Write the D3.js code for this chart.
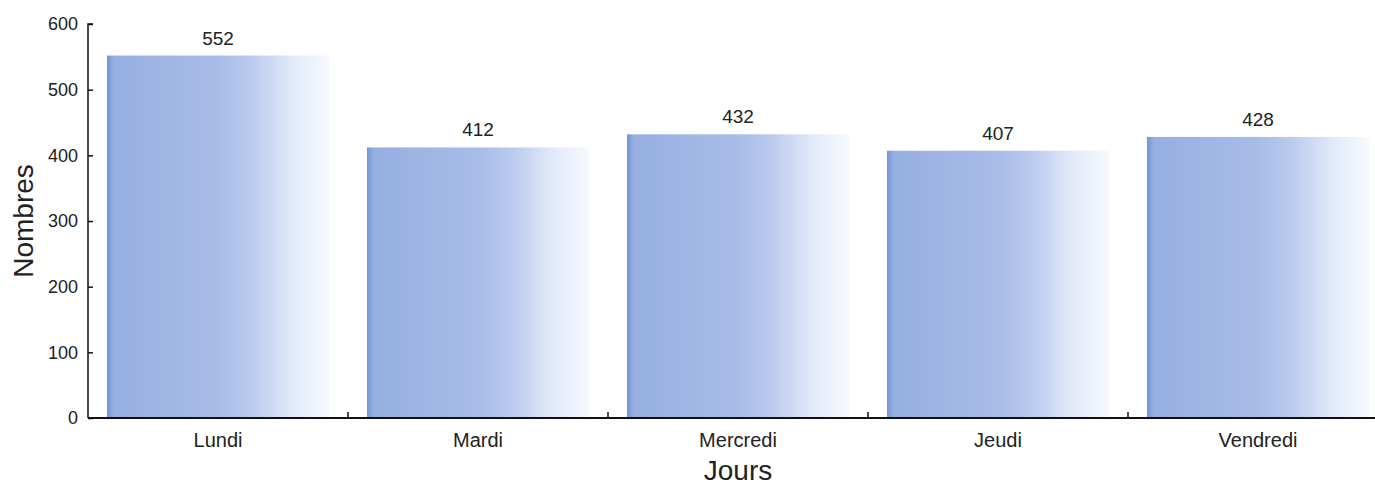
<!DOCTYPE html>
<html>
<head>
<meta charset="utf-8">
<script src="https://cdn.jsdelivr.net/npm/d3@7"></script>
<style>
  body { margin:0; background:#fff; }
  svg text { font-family: "Liberation Sans", Arial, sans-serif; fill:#222; }
</style>
</head>
<body>
<svg id="chart"></svg>
<script>
// data
var jours = ["Lundi", "Mardi", "Mercredi", "Jeudi", "Vendredi"];
var nombres = [552, 412, 432, 407, 428];
var yTicks = [0, 100, 200, 300, 400, 500, 600];

var container = { width:1375, height:488 };
var margin = { left:88, top:24, bottom:70 };

var svg = d3.select('#chart').attr('width', container.width).attr('height', container.height);

/*
	Gradient for the bars, blue on the left, fading to white
 */
var grad = svg.append('defs').append('linearGradient')
	.attr('id', 'barFade').attr('x1', '0%').attr('x2', '100%').attr('y1', '0%').attr('y2', '0%');
[[0, '#7196d4'], [0.03, '#96afe1'], [0.5, '#a8bce8'], [0.66, '#bccbee'], [0.82, '#dfe7f8'], [1, '#f7f9fe']]
	.forEach(function(s){ grad.append('stop').attr('offset', s[0]).attr('stop-color', s[1]); });

var x = d3.scaleBand().domain(jours).range([margin.left, margin.left + 1300]).paddingInner(0.146).paddingOuter(0.073);
var y = d3.scaleLinear().domain([0, 600]).range([container.height - margin.bottom, margin.top]);
var y0 = y(0);

// bars
svg.selectAll('rect.bar').data(jours).enter().append('rect')
	.attr('class', 'bar')
	.attr('x', function(d){ return x(d); })
	.attr('y', function(d, i){ return y(nombres[i]); })
	.attr('width', x.bandwidth())
	.attr('height', function(d, i){ return y0 - y(nombres[i]); })
	.attr('fill', 'url(#barFade)');

// value labels
svg.selectAll('text.val').data(jours).enter().append('text')
	.attr('class', 'val')
	.attr('x', function(d){ return x(d) + x.bandwidth() / 2; })
	.attr('y', function(d, i){ return y(nombres[i]) - 11; })
	.attr('text-anchor', 'middle')
	.style('font-size', '19px')
	.text(function(d, i){ return nombres[i]; });

// y axis
var yAxis = svg.append('g').attr('transform', 'translate(' + margin.left + ',0)')
	.call(d3.axisLeft(y).tickValues(yTicks).tickSize(-5).tickPadding(10));
yAxis.selectAll('text').style('font-size', '18px').attr('fill', '#222');
yAxis.selectAll('line, path').attr('stroke', '#111').attr('stroke-width', 1.5);
yAxis.select('.domain').attr('d', 'M5,' + y(600) + 'H0V' + y0);

// x axis, ticks on the category boundaries
var xg = svg.append('g').attr('transform', 'translate(0,' + y0 + ')');
xg.append('line').attr('x1', margin.left).attr('x2', container.width).attr('y1', 0).attr('y2', 0)
	.attr('stroke', '#111').attr('stroke-width', 1.8);
var step = x.step();
xg.selectAll('line.tk').data(jours.slice(1)).enter().append('line')
	.attr('class', 'tk')
	.attr('x1', function(d){ return x(d) - step * x.paddingInner() / 2; })
	.attr('x2', function(d){ return x(d) - step * x.paddingInner() / 2; })
	.attr('y1', 0).attr('y2', -6)
	.attr('stroke', '#111').attr('stroke-width', 1.5);
xg.selectAll('text').data(jours).enter().append('text')
	.attr('x', function(d){ return x(d) + x.bandwidth() / 2; })
	.attr('y', 29)
	.attr('text-anchor', 'middle')
	.style('font-size', '20px')
	.text(function(d){ return d; });

// axis titles
svg.append('text').attr('x', x(jours[2]) + x.bandwidth() / 2).attr('y', 480)
	.attr('text-anchor', 'middle').style('font-size', '28px').text('Jours');
svg.append('text').attr('transform', 'translate(33,' + ((y0 + y(600)) / 2) + ') rotate(-90)')
	.attr('text-anchor', 'middle').style('font-size', '28px').text('Nombres');
</script>
</body>
</html>
